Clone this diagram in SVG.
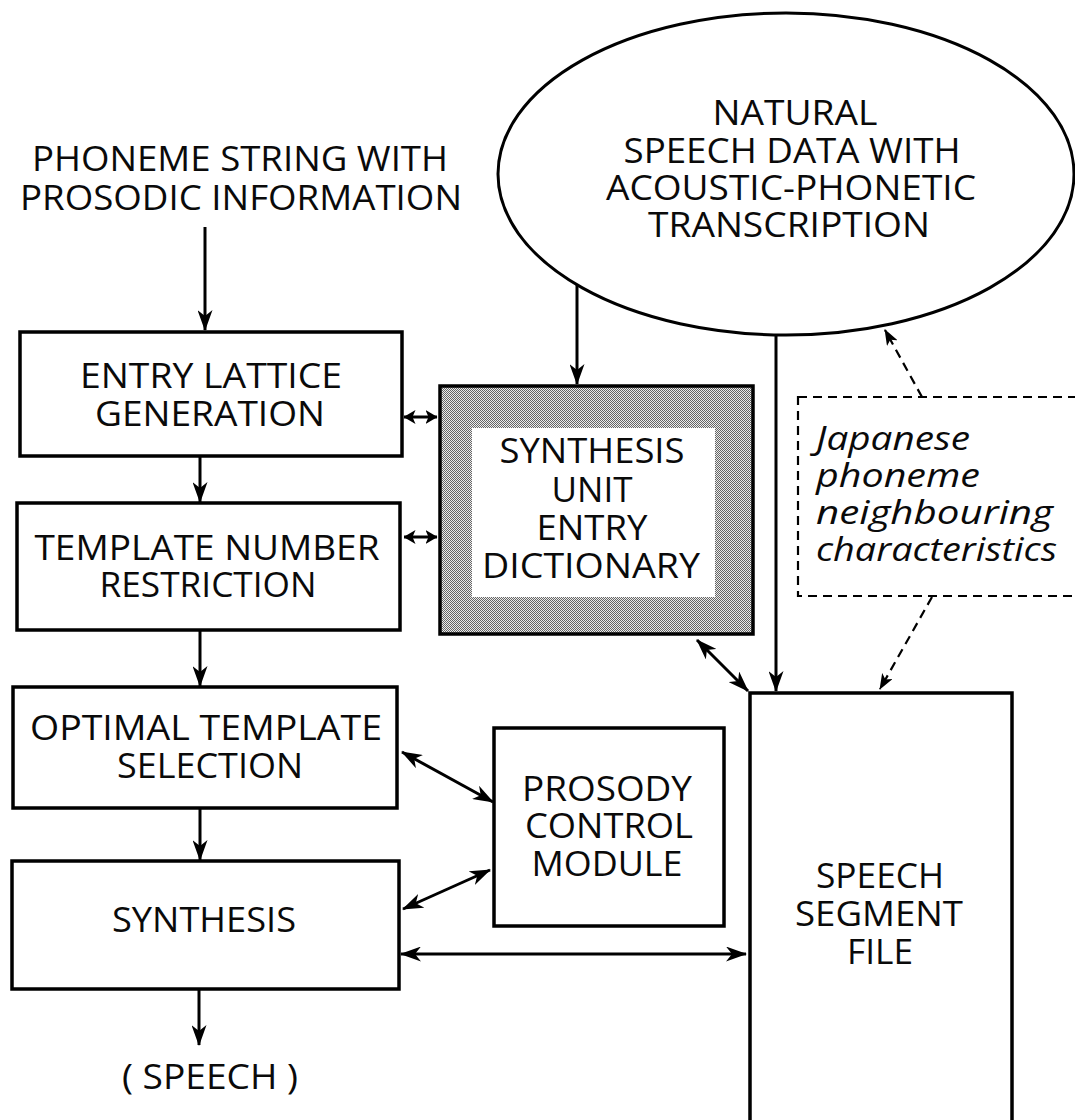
<svg xmlns="http://www.w3.org/2000/svg" width="1075" height="1120" viewBox="0 0 1075 1120">
  <style>
    .box { fill: #ffffff; stroke: #000000; stroke-width: 3.5; }
    .lbl { font-family: "Open Sans", "Noto Sans", "Liberation Sans", sans-serif; font-size: 34px; font-weight: 500; fill: #0a0a0a; text-anchor: middle; }
    .ital { font-family: "Open Sans", "Noto Sans", "Liberation Sans", sans-serif; font-size: 33px; font-weight: 500; font-style: italic; fill: #0a0a0a; }
    .wire { fill: none; stroke: #000000; stroke-width: 3; }
    .dash { fill: none; stroke: #000000; stroke-width: 2.2; stroke-dasharray: 9 6; }
  </style>
  <defs>
    <!-- barbed arrowheads -->
    <marker id="head" viewBox="0 0 21 15" refX="20" refY="7.5" markerWidth="21" markerHeight="15" markerUnits="userSpaceOnUse" orient="auto-start-reverse">
      <path d="M0,0 L21,7.5 L0,15 L6,7.5 Z" fill="#000000"/>
    </marker>
    <marker id="headSmall" viewBox="0 0 12 14" refX="11.5" refY="7" markerWidth="12" markerHeight="14" markerUnits="userSpaceOnUse" orient="auto-start-reverse">
      <path d="M0,0 L12,7 L0,14 L3,7 Z" fill="#000000"/>
    </marker>
    <marker id="headDash" viewBox="0 0 16 12" refX="15" refY="6" markerWidth="16" markerHeight="12" markerUnits="userSpaceOnUse" orient="auto">
      <path d="M0,0 L16,6 L0,12 L4,6 Z" fill="#000000"/>
    </marker>
    <!-- halftone stipple for the dictionary frame -->
    <pattern id="stipple" width="2" height="2" patternUnits="userSpaceOnUse">
      <rect width="2" height="2" fill="#ececec"/>
      <rect width="1" height="1" fill="#666666"/>
      <rect x="1" y="1" width="1" height="1" fill="#666666"/>
    </pattern>
  </defs>

  <rect width="1075" height="1120" fill="#ffffff"/>

  <!-- input label -->
  <g id="input">
    <text class="lbl" x="240" y="171" textLength="416" lengthAdjust="spacingAndGlyphs">PHONEME STRING WITH</text>
    <text class="lbl" x="241" y="210" textLength="442" lengthAdjust="spacingAndGlyphs">PROSODIC INFORMATION</text>
  </g>

  <!-- natural speech data -->
  <g id="natural-speech">
    <ellipse cx="786" cy="174" rx="288" ry="161" fill="none" stroke="#000000" stroke-width="3"/>
    <text class="lbl" x="795" y="125" textLength="165" lengthAdjust="spacingAndGlyphs">NATURAL</text>
    <text class="lbl" x="792" y="163" textLength="337" lengthAdjust="spacingAndGlyphs">SPEECH DATA WITH</text>
    <text class="lbl" x="791" y="200" textLength="370" lengthAdjust="spacingAndGlyphs">ACOUSTIC-PHONETIC</text>
    <text class="lbl" x="789" y="237" textLength="282" lengthAdjust="spacingAndGlyphs">TRANSCRIPTION</text>
  </g>

  <g id="entry-lattice">
    <rect class="box" x="20" y="332" width="382" height="124"/>
    <text class="lbl" x="211" y="388" textLength="262" lengthAdjust="spacingAndGlyphs">ENTRY LATTICE</text>
    <text class="lbl" x="210" y="426" textLength="230" lengthAdjust="spacingAndGlyphs">GENERATION</text>
  </g>

  <g id="template-number">
    <rect class="box" x="17" y="503" width="383" height="127"/>
    <text class="lbl" x="207" y="560" textLength="345" lengthAdjust="spacingAndGlyphs">TEMPLATE NUMBER</text>
    <text class="lbl" x="208" y="597" textLength="217" lengthAdjust="spacingAndGlyphs">RESTRICTION</text>
  </g>

  <g id="optimal-template">
    <rect class="box" x="13" y="687" width="384" height="121"/>
    <text class="lbl" x="206" y="740" textLength="352" lengthAdjust="spacingAndGlyphs">OPTIMAL TEMPLATE</text>
    <text class="lbl" x="210" y="778" textLength="186" lengthAdjust="spacingAndGlyphs">SELECTION</text>
  </g>

  <g id="synthesis">
    <rect class="box" x="12" y="861" width="387" height="128"/>
    <text class="lbl" x="204" y="932" textLength="184" lengthAdjust="spacingAndGlyphs">SYNTHESIS</text>
  </g>

  <g id="speech-out">
    <text class="lbl" x="210" y="1089" textLength="176" lengthAdjust="spacingAndGlyphs">( SPEECH )</text>
  </g>

  <g id="dictionary">
    <rect x="440" y="386" width="313" height="248" fill="url(#stipple)" stroke="#000000" stroke-width="3.5"/>
    <rect x="472" y="428" width="243" height="169" fill="#ffffff"/>
    <text class="lbl" x="592" y="463" textLength="185" lengthAdjust="spacingAndGlyphs">SYNTHESIS</text>
    <text class="lbl" x="592" y="502" textLength="81" lengthAdjust="spacingAndGlyphs">UNIT</text>
    <text class="lbl" x="592" y="540" textLength="111" lengthAdjust="spacingAndGlyphs">ENTRY</text>
    <text class="lbl" x="591" y="578" textLength="218" lengthAdjust="spacingAndGlyphs">DICTIONARY</text>
  </g>

  <g id="prosody">
    <rect class="box" x="494" y="728" width="230" height="198"/>
    <text class="lbl" x="607" y="801" textLength="170" lengthAdjust="spacingAndGlyphs">PROSODY</text>
    <text class="lbl" x="609" y="838" textLength="168" lengthAdjust="spacingAndGlyphs">CONTROL</text>
    <text class="lbl" x="607" y="876" textLength="151" lengthAdjust="spacingAndGlyphs">MODULE</text>
  </g>

  <g id="segment-file">
    <rect class="box" x="750" y="693" width="262" height="460"/>
    <text class="lbl" x="880" y="888" textLength="128" lengthAdjust="spacingAndGlyphs">SPEECH</text>
    <text class="lbl" x="879" y="926" textLength="168" lengthAdjust="spacingAndGlyphs">SEGMENT</text>
    <text class="lbl" x="880" y="964" textLength="66" lengthAdjust="spacingAndGlyphs">FILE</text>
  </g>

  <g id="neighbouring">
    <rect x="798" y="397" width="300" height="199" fill="none" stroke="#000000" stroke-width="2.2" stroke-dasharray="9 6"/>
    <text class="ital" x="816" y="450" textLength="154" lengthAdjust="spacingAndGlyphs">Japanese</text>
    <text class="ital" x="816" y="487" textLength="164" lengthAdjust="spacingAndGlyphs">phoneme</text>
    <text class="ital" x="816" y="524" textLength="237" lengthAdjust="spacingAndGlyphs">neighbouring</text>
    <text class="ital" x="816" y="561" textLength="241" lengthAdjust="spacingAndGlyphs">characteristics</text>
  </g>

  <!-- connectors -->
  <g id="connectors">
    <path class="wire" d="M205,227 L205,330" marker-end="url(#head)"/>
    <path class="wire" d="M200,456 L200,502" marker-end="url(#head)"/>
    <path class="wire" d="M200,630 L200,686" marker-end="url(#head)"/>
    <path class="wire" d="M200,808 L200,860" marker-end="url(#head)"/>
    <path class="wire" d="M199,989 L199,1045" marker-end="url(#head)"/>
    <path class="wire" d="M577,285 L577,384" marker-end="url(#head)"/>
    <path class="wire" d="M776,335 L776,691" marker-end="url(#head)"/>

    <path class="wire" d="M404,417 L437,417" marker-start="url(#headSmall)" marker-end="url(#headSmall)"/>
    <path class="wire" d="M404,537 L437,537" marker-start="url(#headSmall)" marker-end="url(#headSmall)"/>

    <path class="wire" d="M697,640 L748,691" marker-start="url(#head)" marker-end="url(#head)"/>
    <path class="wire" d="M402,752 L493,802" marker-start="url(#head)" marker-end="url(#head)"/>
    <path class="wire" d="M403,909 L490,870" marker-start="url(#head)" marker-end="url(#head)"/>
    <path class="wire" d="M401,954 L746,954" marker-start="url(#head)" marker-end="url(#head)"/>

    <path class="dash" d="M922,397 L885,330" marker-end="url(#headDash)"/>
    <path class="dash" d="M932,597 L880,689" marker-end="url(#headDash)"/>
  </g>
</svg>
